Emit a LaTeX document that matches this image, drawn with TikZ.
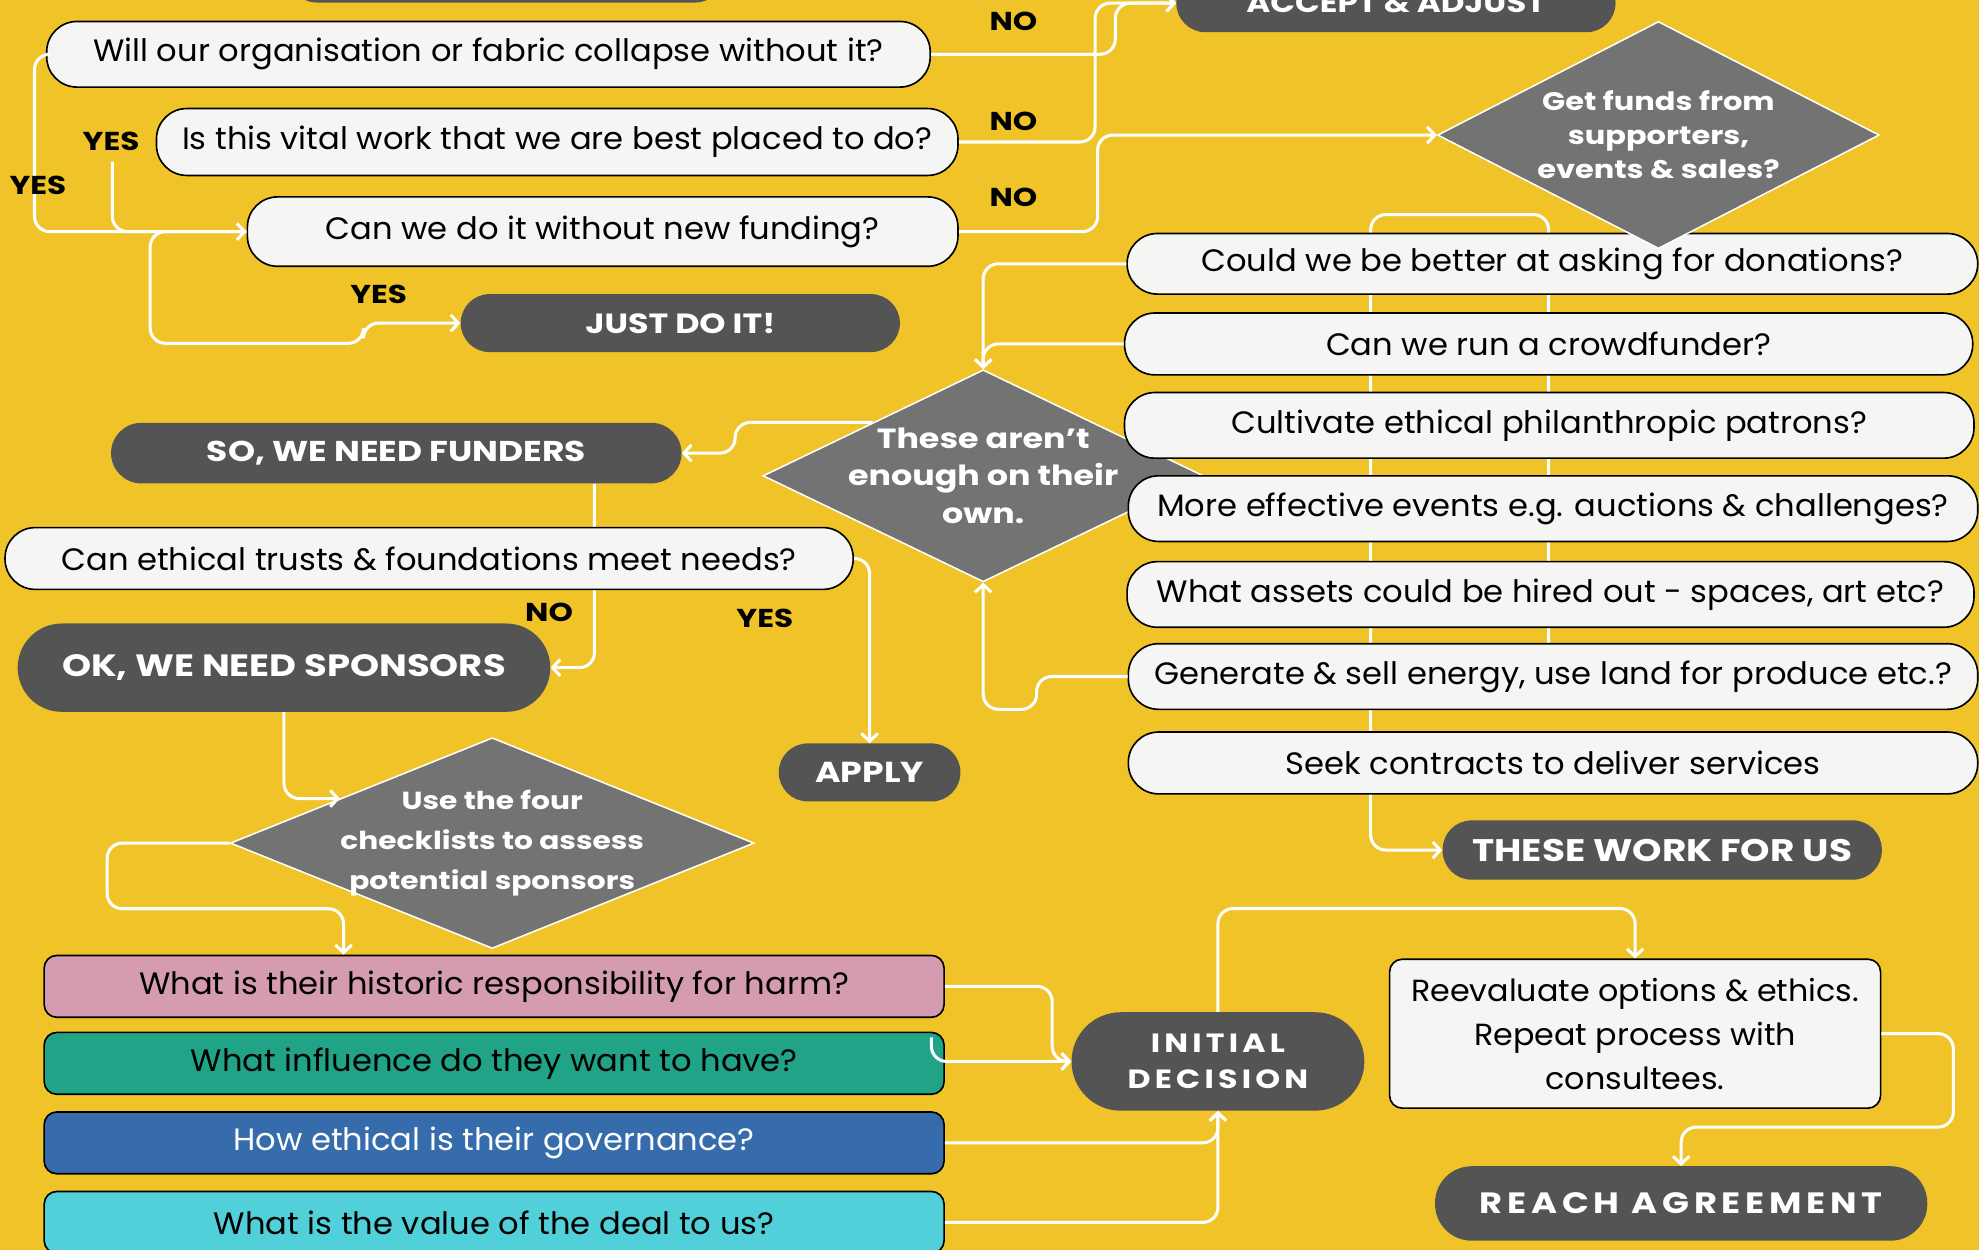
\documentclass[tikz,border=0pt]{standalone}
\usepackage{fontspec}
\setmainfont[FakeStretch=1.04, BoldFeatures={FakeStretch=1.2}]{Poppins}
\newfontfamily\popsp[LetterSpace=16, FakeStretch=1.04, BoldFeatures={FakeStretch=1.2}]{Poppins}
\usetikzlibrary{shapes.geometric,arrows.meta,calc}
\pgfdeclarelayer{bg}
\pgfsetlayers{bg,main}
\definecolor{bgy}{HTML}{F0C428}
\definecolor{dark}{HTML}{545454}
\definecolor{dgray}{HTML}{737373}
\definecolor{boxw}{HTML}{F5F5F3}
\definecolor{cpink}{HTML}{D59CB0}
\definecolor{cgreen}{HTML}{20A386}
\definecolor{cblue}{HTML}{366CAC}
\definecolor{ccyan}{HTML}{52D0DA}
\newcommand{\fs}[1]{\fontsize{#1bp}{1.2\dimexpr #1bp\relax}\selectfont}
\tikzset{
  pill/.style={fill=dark, text=white, inner sep=0pt, rounded corners=#1,
    font=\bfseries\fs{22}},
  wbox/.style={draw=black, line width=1.3bp, fill=boxw, inner sep=0pt,
    rounded corners=24bp, font=\fs{24.5}},
  cbox/.style={draw=black, line width=1.3bp, fill=#1, inner sep=0pt,
    rounded corners=10bp, font=\fs{24.5}},
  dia/.style={diamond, fill=dgray, draw=white, line width=1.2bp, inner sep=0pt},
  dtext/.style={text=white, align=center, inner sep=0pt},
  lbl/.style={font=\bfseries\fs{20.5}, inner sep=0pt},
  conn/.style={draw=white, line width=2.4bp, rounded corners=12bp},
  arr/.style={conn, -{Straight Barb[length=6bp,width=13bp]}},
}
\begin{document}
\begin{tikzpicture}[x=1bp,y=-1bp]
\useasboundingbox (0,0) rectangle (1568,990);
\begin{pgfonlayer}{bg}
\fill[bgy] (0,0) rectangle (1568,990);
\end{pgfonlayer}
\clip (0,0) rectangle (1568,990);

% top row
\node[pill=23bp, minimum width=346bp, minimum height=46bp] (topbar) at (401,-21) {};
\node[pill=23bp, minimum width=348bp, minimum height=46bp, font=\bfseries\fs{21.5}] (accept) at (1106,2.5) {ACCEPT \& ADJUST};

\node[wbox, minimum width=700bp, minimum height=52bp] (q1) at (387,43) {Will our organisation or fabric collapse without it?};
\node[wbox, minimum width=635bp, minimum height=53bp] (q2) at (441.5,112.5) {Is this vital work that we are best placed to do?};
\node[wbox, minimum width=563bp, minimum height=55bp] (q3) at (477.5,183.5) {Can we do it without new funding?};
\node[pill=23bp, minimum width=348bp, minimum height=46bp] (justdo) at (539,256) {JUST DO IT!};

% middle diamond (behind right boxes)
\node[dia, minimum width=349bp, minimum height=168bp] (enough) at (779,377) {};
\node[dtext, font=\bfseries\fontsize{22bp}{30bp}\selectfont] (enought) at (enough) {These aren’t\\enough on their\\own.};

% right column
\node[wbox, minimum width=674bp, minimum height=48bp] (r1) at (1230,209) {Could we be better at asking for donations?};
\node[wbox, minimum width=672bp, minimum height=49bp] (r2) at (1227,272.5) {Can we run a crowdfunder?};
\node[wbox, minimum width=673bp, minimum height=52bp] (r3) at (1227.5,337) {Cultivate ethical philanthropic patrons?};
\node[wbox, minimum width=673bp, minimum height=52bp] (r4) at (1230.5,403) {More effective events e.g. auctions \& challenges?};
\node[wbox, minimum width=671bp, minimum height=52bp] (r5) at (1228.5,471) {What assets could be hired out - spaces, art etc?};
\node[wbox, minimum width=673bp, minimum height=52bp] (r6) at (1230.5,536) {Generate \& sell energy, use land for produce etc.?};
\node[wbox, minimum width=673bp, minimum height=49bp] (r7) at (1230.5,604.5) {Seek contracts to deliver services};
\node[pill=23bp, minimum width=348bp, minimum height=47bp, font=\bfseries\fs{24.7}] (works) at (1317,673.5) {THESE WORK FOR US};

\node[dia, minimum width=350bp, minimum height=180bp] (gf) at (1314,107) {};
\node[dtext, font=\bfseries\fontsize{20.1bp}{27bp}\selectfont] (gft) at (gf) {Get funds from\\supporters,\\events \& sales?};

% left middle
\node[pill=24bp, minimum width=452bp, minimum height=48bp, font=\bfseries\fs{22.7}] (funders) at (314,359) {SO, WE NEED FUNDERS};
\node[wbox, minimum width=672bp, minimum height=49bp] (trusts) at (340,442.5) {Can ethical trusts \& foundations meet needs?};
\node[pill=35bp, minimum width=422bp, minimum height=70bp, font=\bfseries\fs{24.4}] (ok) at (225,529) {OK, WE NEED SPONSORS};
\node[pill=23bp, minimum width=144bp, minimum height=46bp, font=\bfseries\fs{22.9}] (apply) at (689,612) {APPLY};

\node[dia, minimum width=415bp, minimum height=167bp] (check) at (390,668) {};
\node[dtext, font=\bfseries\fontsize{19.6bp}{32bp}\selectfont] (checkt) at (check) {Use the four\\checklists to assess\\potential sponsors};

% checklists
\node[cbox=cpink, minimum width=713bp, minimum height=49bp] (pink) at (391.5,781.5) {What is their historic responsibility for harm?};
\node[cbox=cgreen, minimum width=713bp, minimum height=49bp] (green) at (391.5,842.5) {What influence do they want to have?};
\node[cbox=cblue, minimum width=713bp, minimum height=49bp, text=white] (blue) at (391.5,905.5) {How ethical is their governance?};
\node[cbox=ccyan, minimum width=713bp, minimum height=49bp] (cyan) at (391.5,968.5) {What is the value of the deal to us?};

% bottom right
\node[pill=39bp, minimum width=232bp, minimum height=78bp, font=\bfseries\popsp\fontsize{20.9bp}{29bp}\selectfont, align=center] (initial) at (965,841) {INITIAL\\DECISION};
\node[draw=black, line width=1.3bp, fill=boxw, rounded corners=10bp, inner sep=0pt, minimum width=389bp, minimum height=118bp, align=center, font=\fontsize{24.2bp}{35bp}\selectfont] (reeval) at (1295.5,819) {Reevaluate options \& ethics.\\Repeat process with\\consultees.};
\node[pill=29bp, minimum width=390bp, minimum height=59bp, font=\bfseries\popsp\fs{23.3}] (reach) at (1332,953.5) {REACH AGREEMENT};

% coordinates for free ends
\coordinate (y2s) at (89,128);
\coordinate (jst) at (135,183.5);
\coordinate (ef) at ($(enough.west)!0.5!(enough.north)$);
\coordinate (fs) at ($(funders.south)+(157,0)$);
\coordinate (cf) at ($(check.west)!0.42!(check.north)$);
\coordinate (pinkin) at ($(pink.north west)!0.333!(pink.north east)$);
\coordinate (ghs) at (738,822);
\coordinate (lp) at (1227,540);

% connectors behind boxes
\begin{pgfonlayer}{bg}
\draw[arr] (lp) -- (1227,170) -- (1086,170) -- (1086,673.5) -- (works.west);
\draw[arr] (fs) |- (ok.east);
\end{pgfonlayer}

% connectors
\draw[arr] (q1.west) -- ++(-9,0) |- (q3.west);
\draw[conn] (y2s) |- (q3.west);
\draw[arr] (jst) -- (119,183.5) -- (119,272) -- (288,272) -- (288,256) -- (justdo.west);
\draw[arr] (q1.east) -- ++(146,0) |- (accept.west);
\draw[arr] (q2.east) -- ++(108,0) |- (accept.west);
\draw[arr] (q3.east) -- ++(110,0) |- (gf.west);
\draw[arr] (r1.west) -| (enough.north);
\draw[arr] (r2.west) -| (enough.north);
\draw[arr] (r6.west) -- ++(-72,0) -- ++(0,26) -| (enough.south);
\draw[arr] (ef) -- ++(-109,0) |- (funders.east);
\draw[arr] (trusts.east) -| (apply.north);
\draw[arr] (ok.south) |- (cf);
\draw[arr] (check.west) -- ++(-97,0) -- ++(0,52) -| (pinkin);
\draw[arr] (pink.east) -- ++(85,0) |- (initial.west);
\draw[arr] (ghs) |- (initial.west);
\draw[arr] (blue.east) -| (initial.south);
\draw[arr] (cyan.east) -| (initial.south);
\draw[arr] (initial.north) -- ++(0,-82) -| (reeval.north);
\draw[arr] (reeval.east) -- ++(57,0) -- ++(0,74) -| (reach.north);

% labels
\node[lbl] (no1) at (803,17) {NO};
\node[lbl] (no2) at (803,96) {NO};
\node[lbl] (no3) at (803,156) {NO};
\node[lbl] (yes1) at (88,112) {YES};
\node[lbl] (yes2) at (30,147) {YES};
\node[lbl] (yes3) at (300,233) {YES};
\node[lbl] (no4) at (435,485) {NO};
\node[lbl] (yes4) at (606,490) {YES};
\end{tikzpicture}
\end{document}
